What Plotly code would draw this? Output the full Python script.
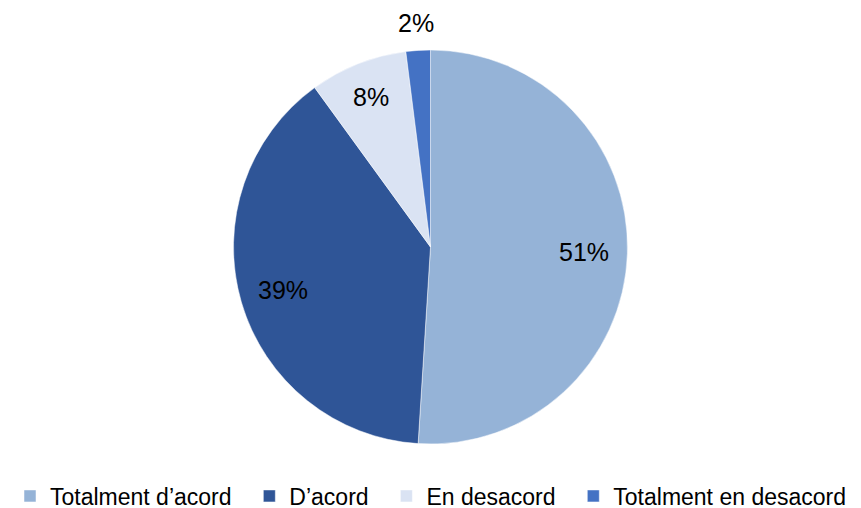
import math
import plotly.graph_objects as go

categories = ["Totalment d’acord", "D’acord", "En desacord", "Totalment en desacord"]
values = [51, 39, 8, 2]
colors = ["#95B3D7", "#2F5597", "#DAE3F3", "#4472C4"]
label_radius = [0.78, 0.78, 0.82, 1.14]  # label distance as fraction of pie radius

W, H = 861, 508
ML, MR, MT, MB = 0, 0, 50, 64

# pad legend entries (non-breaking spaces) to widen the gap between items
legend_names = [c + "\u00a0" * 2 if i < len(categories) - 1 else c
                for i, c in enumerate(categories)]

fig = go.Figure(go.Pie(
    labels=legend_names,
    values=values,
    sort=False,
    direction="clockwise",
    rotation=0,
    marker=dict(colors=colors, line=dict(color="#FFFFFF", width=0.5)),
    textinfo="none",
    hovertext=categories,
    hoverinfo="text+percent",
))

# place percentage labels at each slice's mid-angle (derived from the values)
pw, ph = W - ML - MR, H - MT - MB
r_px = min(pw, ph) / 2
total = sum(values)
cum = 0
annotations = []
for v, rf in zip(values, label_radius):
    mid = (cum + v / 2) / total * 2 * math.pi
    cum += v
    dx = math.sin(mid) * r_px * rf
    dy = math.cos(mid) * r_px * rf
    annotations.append(dict(
        x=0.5 + dx / pw, y=0.5 + dy / ph, xref="paper", yref="paper",
        text=f"{round(v / total * 100)}%", showarrow=False,
        xanchor="center", yanchor="middle",
        font=dict(family="Liberation Sans, Arial, sans-serif", size=25, color="#000000"),
    ))

fig.update_layout(
    width=W, height=H,
    paper_bgcolor="#FFFFFF", plot_bgcolor="#FFFFFF",
    margin=dict(l=ML, r=MR, t=MT, b=MB, autoexpand=False),
    font=dict(family="Liberation Sans, Arial, sans-serif", color="#000000"),
    annotations=annotations,
    legend=dict(
        orientation="h", x=0.5, xanchor="center", y=-52 / 394, yanchor="middle",
        font=dict(size=23, color="#000000"),
        traceorder="normal",
        itemwidth=30,
    ),
)

fig.write_html("out.html", config={"displayModeBar": False},
               post_script="document.body.style.margin='0';document.body.style.overflow='hidden';")
